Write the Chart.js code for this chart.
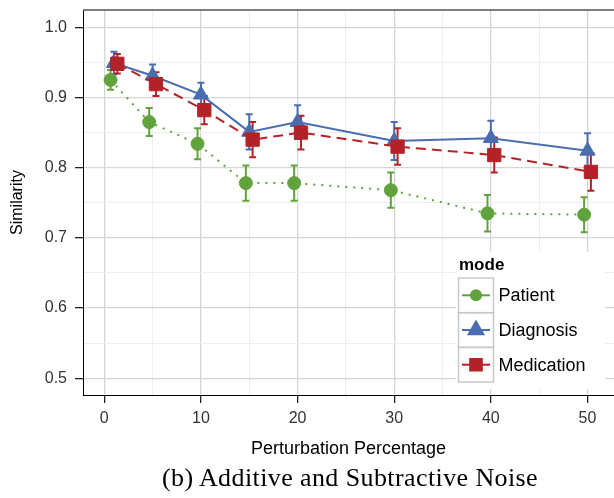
<!DOCTYPE html>
<html>
<head>
<meta charset="utf-8">
<script src="https://cdn.jsdelivr.net/npm/chart.js@4.4.1/dist/chart.umd.min.js"></script>
<style>
  html, body { margin: 0; padding: 0; background: #fff; }
  #wrap { position: relative; width: 614px; height: 498px; overflow: hidden; }
  #chart { position: absolute; left: 0; top: 0; }
  #caption {
    position: absolute; left: 350px; top: 463px; transform: translateX(-50%);
    white-space: nowrap; font-family: "Liberation Serif", "Times New Roman", serif;
    font-size: 26px; letter-spacing: 0.4px; color: #000;
  }
</style>
</head>
<body>
<div id="wrap">
  <canvas id="chart" width="614" height="465"></canvas>
  <div id="caption">(b) Additive and Subtractive Noise</div>
</div>
<script>
// perturbation levels on the x axis
const percentages = [1, 5, 10, 15, 20, 30, 40, 50];

// mean similarity per mode, with error bar half-widths
const patient = [0.925, 0.865, 0.834, 0.778, 0.778, 0.768, 0.735, 0.733];
const patientErr = [0.014, 0.020, 0.022, 0.025, 0.025, 0.025, 0.026, 0.025];
const diagnosis = [0.949, 0.931, 0.904, 0.851, 0.865, 0.838, 0.842, 0.824];
const diagnosisErr = [0.016, 0.016, 0.017, 0.025, 0.024, 0.027, 0.025, 0.025];
const medication = [0.948, 0.919, 0.882, 0.840, 0.850, 0.830, 0.818, 0.794];
const medicationErr = [0.014, 0.017, 0.020, 0.025, 0.024, 0.026, 0.025, 0.027];

// axis ticks
const xMajorTicks = [0, 10, 20, 30, 40, 50];
const xMinorTicks = [5, 15, 25, 35, 45];
const yMajorTicks = [0.5, 0.6, 0.7, 0.8, 0.9, 1.0];
const yMinorTicks = [0.55, 0.65, 0.75, 0.85, 0.95];

const FONT = '"Liberation Sans", Arial, Helvetica, sans-serif';
const GREEN = "#61a23d";
const BLUE = "#4a6db0";
const RED = "#b42229";

// ggplot-style dodge so the error bars don't sit on top of each other
const dodge = 0.35;
const points = (vals, shift) => percentages.map((p, i) => ({ x: p + shift, y: vals[i] }));

const isMajor = (list, v) => list.some((t) => Math.abs(t - v) < 1e-9);

const errorBars = {
  id: "errorBars",
  beforeDatasetsDraw(chart) {
    const { ctx, scales: { x, y } } = chart;
    chart.data.datasets.forEach((ds) => {
      ctx.save();
      ctx.strokeStyle = ds.borderColor;
      ctx.lineWidth = 2;
      ds.data.forEach((p, i) => {
        const px = x.getPixelForValue(p.x);
        const top = y.getPixelForValue(p.y + ds.errors[i]);
        const bot = y.getPixelForValue(p.y - ds.errors[i]);
        ctx.beginPath();
        ctx.moveTo(px, top);
        ctx.lineTo(px, bot);
        ctx.moveTo(px - 3.5, top);
        ctx.lineTo(px + 3.5, top);
        ctx.moveTo(px - 3.5, bot);
        ctx.lineTo(px + 3.5, bot);
        ctx.stroke();
      });
      ctx.restore();
    });
  },
};

const frame = {
  id: "frame",
  afterDraw(chart) {
    const { ctx, chartArea: a } = chart;
    ctx.save();
    ctx.strokeStyle = "#555";
    ctx.lineWidth = 1.5;
    ctx.beginPath();
    ctx.moveTo(a.left, a.top);
    ctx.lineTo(a.right, a.top);
    ctx.stroke();
    ctx.restore();
  },
};

const legendBox = {
  id: "legendBox",
  afterDraw(chart) {
    const ctx = chart.ctx;
    const items = [
      { label: "Patient", color: GREEN, style: "circle", r: 5 },
      { label: "Diagnosis", color: BLUE, style: "triangle", r: 8.5 },
      { label: "Medication", color: RED, style: "rect", r: 8.2 },
    ];
    ctx.save();
    ctx.fillStyle = "#fff";
    ctx.fillRect(456, 252, 149, 137);
    ctx.fillStyle = "#000";
    ctx.font = "bold 17px " + FONT;
    ctx.textBaseline = "alphabetic";
    ctx.textAlign = "left";
    ctx.fillText("mode", 459, 270);
    items.forEach((it, i) => {
      const top = 278 + i * 34.7;
      const cy = top + 17.3;
      ctx.strokeStyle = "#c8c8c8";
      ctx.lineWidth = 1.5;
      ctx.strokeRect(458.5, top, 35, 34.7);
      ctx.strokeStyle = it.color;
      ctx.lineWidth = 2;
      ctx.beginPath();
      ctx.moveTo(462, cy);
      ctx.lineTo(490, cy);
      ctx.stroke();
      ctx.fillStyle = it.color;
      Chart.helpers.drawPoint(ctx, { pointStyle: it.style, radius: it.r, borderWidth: 1, rotation: 0 }, 476, cy);
      ctx.fill();
      ctx.fillStyle = "#000";
      ctx.font = "18px " + FONT;
      ctx.textBaseline = "middle";
      ctx.fillText(it.label, 498.5, cy + 1);
    });
    ctx.restore();
  },
};

const series = (label, vals, errs, color, style, radius, dash, shift, order) => ({
  label,
  data: points(vals, shift),
  errors: errs,
  borderColor: color,
  backgroundColor: color,
  borderWidth: 2,
  borderDash: dash,
  pointStyle: style,
  pointRadius: radius,
  pointBorderWidth: 1,
  pointBackgroundColor: color,
  pointBorderColor: color,
  tension: 0,
  order,
});

new Chart(document.getElementById("chart"), {
  type: "line",
  data: {
    datasets: [
      series("Patient", patient, patientErr, GREEN, "circle", 6.5, [2, 6], -dodge, 3),
      series("Diagnosis", diagnosis, diagnosisErr, BLUE, "triangle", 8.7, [], 0, 2),
      series("Medication", medication, medicationErr, RED, "rect", 9.4, [10, 6], dodge, 1),
    ],
  },
  plugins: [errorBars, frame, legendBox],
  options: {
    responsive: false,
    animation: false,
    devicePixelRatio: 1,
    layout: { autoPadding: false, padding: { top: 10, right: 0, bottom: 0, left: 0 } },
    plugins: { legend: { display: false }, tooltip: { enabled: false } },
    scales: {
      x: {
        type: "linear",
        min: -2.2,
        max: 52.74,
        afterBuildTicks: (s) => {
          s.ticks = [...xMajorTicks, ...xMinorTicks].sort((a, b) => a - b).map((v) => ({ value: v }));
        },
        afterFit: (s) => {
          s.height = 70;
          s.paddingLeft = 0;
          s.paddingRight = 0;
        },
        grid: {
          color: (c) => (isMajor(xMajorTicks, c.tick.value) ? "#d6d6d6" : "#eeeeee"),
          tickColor: (c) => (isMajor(xMajorTicks, c.tick.value) ? "#222" : "rgba(0,0,0,0)"),
          lineWidth: (c) => (isMajor(xMajorTicks, c.tick.value) ? 1.3 : 1),
          tickLength: 8,
        },
        border: { color: "#000", width: 1 },
        ticks: {
          autoSkip: false,
          maxRotation: 0,
          padding: 6,
          color: "#333",
          font: { family: FONT, size: 16 },
          callback: (v) => (isMajor(xMajorTicks, v) ? String(v) : ""),
        },
        title: {
          display: true,
          text: "Perturbation Percentage",
          color: "#000",
          font: { family: FONT, size: 18 },
          padding: { top: 0, bottom: 5 },
        },
      },
      y: {
        type: "linear",
        min: 0.4762,
        max: 1.0246,
        afterBuildTicks: (s) => {
          s.ticks = [...yMajorTicks, ...yMinorTicks].sort((a, b) => a - b).map((v) => ({ value: v }));
        },
        afterFit: (s) => {
          s.width = 83;
          s.paddingTop = 0;
          s.paddingBottom = 0;
        },
        grid: {
          color: (c) => (isMajor(yMajorTicks, c.tick.value) ? "#d6d6d6" : "#eeeeee"),
          tickColor: (c) => (isMajor(yMajorTicks, c.tick.value) ? "#222" : "rgba(0,0,0,0)"),
          lineWidth: (c) => (isMajor(yMajorTicks, c.tick.value) ? 1.3 : 1),
          tickLength: 8,
        },
        border: { color: "#000", width: 1 },
        ticks: {
          autoSkip: false,
          padding: 8,
          color: "#333",
          font: { family: FONT, size: 16 },
          callback: (v) => (isMajor(yMajorTicks, v) ? v.toFixed(1) : ""),
        },
        title: {
          display: true,
          text: "Similarity",
          color: "#000",
          font: { family: FONT, size: 16 },
          padding: { top: 8, bottom: 0 },
        },
      },
    },
  },
});
</script>
</body>
</html>
